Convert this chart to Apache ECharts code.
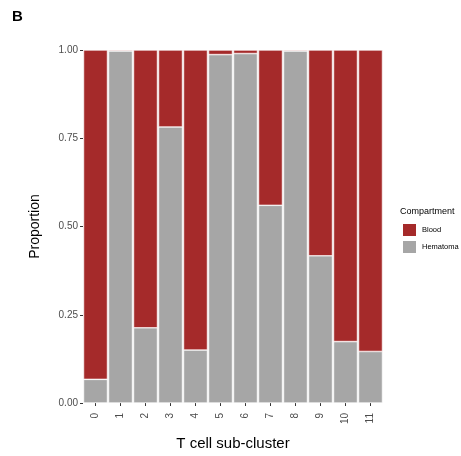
<!DOCTYPE html>
<html>
<head>
<meta charset="utf-8">
<script src="https://cdn.jsdelivr.net/npm/echarts@6/dist/echarts.min.js"></script>
<style>
  html, body { margin: 0; padding: 0; background: #fff; }
  #chart { width: 461px; height: 456px; }
</style>
</head>
<body>
<div id="chart"></div>
<script>
const clusters = ['0', '1', '2', '3', '4', '5', '6', '7', '8', '9', '10', '11']
const hematoma = [0.067, 0.997, 0.213, 0.782, 0.150, 0.987, 0.990, 0.560, 0.997, 0.417, 0.174, 0.146]
const blood    = [0.933, 0.003, 0.787, 0.218, 0.850, 0.013, 0.010, 0.440, 0.003, 0.583, 0.826, 0.854]
const yTicks   = [0, 0.25, 0.5, 0.75, 1]

const font = 'Liberation Sans, Arial, sans-serif'
const chart = echarts.init(document.getElementById('chart'))

chart.setOption({
	animation: false,
	textStyle: { fontFamily: font },
	grid: { left: 83, right: 78, top: 50, bottom: 49 },
	graphic: [
		{ type: 'text', left: 12, top: 9, style: { text: 'B', font: 'bold 15px ' + font, fill: '#000' } },
		{ type: 'text', left: 400, top: 207, style: { text: 'Compartment', font: '9px ' + font, fill: '#000' } }
	],
	legend: {
		data: ['Blood', 'Hematoma'],
		orient: 'vertical',
		left: 401,
		top: 222,
		padding: 0,
		itemWidth: 15,
		itemHeight: 14,
		itemGap: 1,
		icon: 'rect',
		textStyle: { fontSize: 7.5, color: '#000', fontFamily: font }
	},
	xAxis: {
		type: 'category',
		data: clusters,
		name: 'T cell sub-cluster',
		nameLocation: 'middle',
		nameGap: 33,
		nameTextStyle: { fontSize: 15, color: '#000' },
		axisLine: { show: false },
		axisTick: { show: true, alignWithLabel: true, length: 3, lineStyle: { color: '#333' } },
		axisLabel: { rotate: 90, fontSize: 10, color: '#4d4d4d', margin: 10 }
	},
	yAxis: {
		type: 'value',
		min: yTicks[0],
		max: yTicks[yTicks.length - 1],
		interval: 0.25,
		name: 'Proportion',
		nameLocation: 'middle',
		nameGap: 41,
		nameTextStyle: { fontSize: 14, color: '#000' },
		splitLine: { show: false },
		axisLine: { show: false },
		axisTick: { show: true, length: 3, lineStyle: { color: '#333' } },
		axisLabel: { fontSize: 10, color: '#4d4d4d', margin: 5, formatter: v => v.toFixed(2) }
	},
	series: [
		{
			name: 'Hematoma',
			type: 'bar',
			stack: 'p',
			data: hematoma,
			barCategoryGap: '4%',
			itemStyle: { color: '#a6a6a6', borderColor: '#ffffff', borderWidth: 0.6 }
		},
		{
			name: 'Blood',
			type: 'bar',
			stack: 'p',
			data: blood,
			barCategoryGap: '4%',
			itemStyle: { color: '#a52a2a', borderColor: '#ffffff', borderWidth: 0.6 }
		}
	]
})
</script>
</body>
</html>
